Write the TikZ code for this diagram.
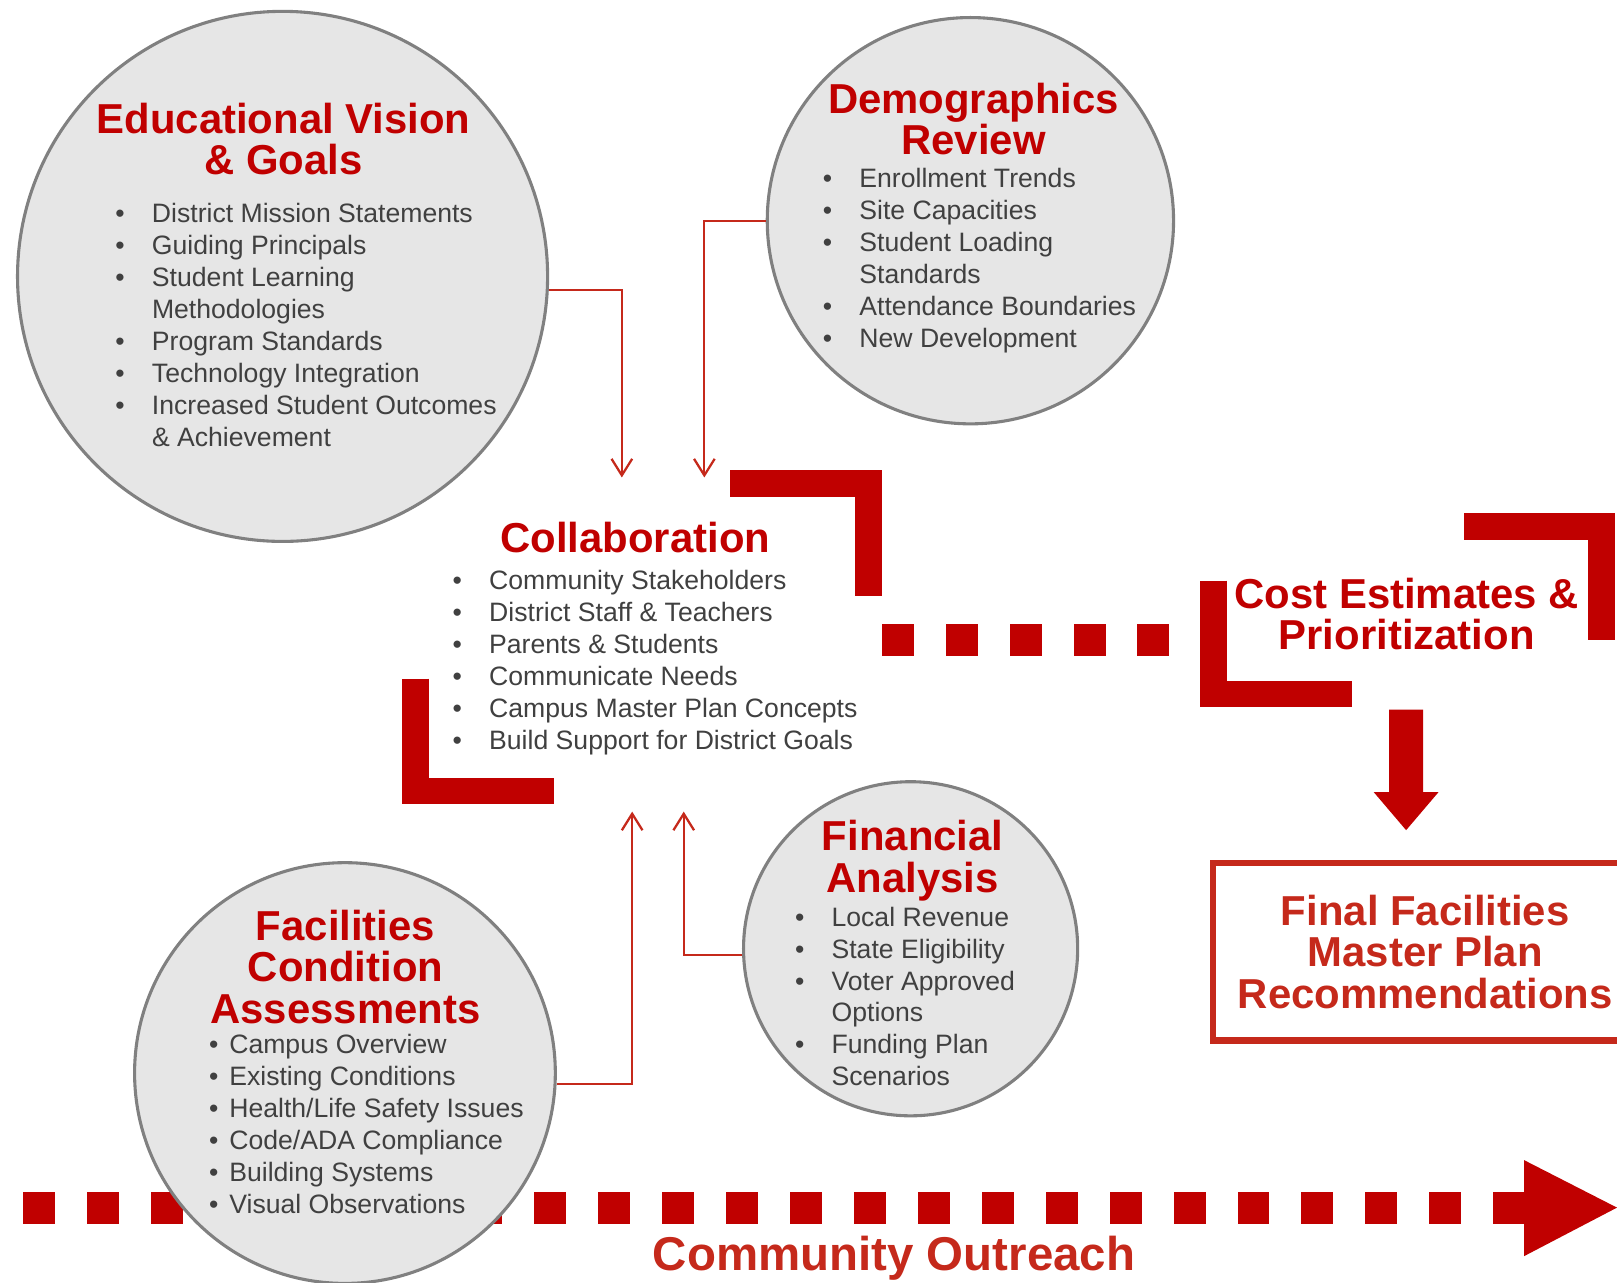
\documentclass[tikz,border=0pt]{standalone}
\usepackage{fontspec}
\setmainfont{Liberation Sans}
\usepackage{xcolor}
\usepackage{tikz}
\usetikzlibrary{arrows.meta}

\definecolor{deepred}{RGB}{192,0,0}
\definecolor{rust}{RGB}{197,41,27}
\definecolor{bubblegray}{RGB}{230,230,230}
\definecolor{rimgray}{RGB}{128,128,128}
\definecolor{inkgray}{RGB}{64,64,64}

\newcommand{\blt}{\makebox[17.75pt][l]{\textbullet}}
\newcommand{\sblt}{\makebox[9.75pt][l]{\textbullet}}
\newcommand{\ind}{\hspace*{17.75pt}}

\begin{document}
\begin{tikzpicture}[
  x=0.5pt, y=-0.5pt,
  bubble/.style={circle, draw=rimgray, fill=bubblegray, line width=1.5pt, inner sep=0pt},
  heading/.style={anchor=base, align=center, inner sep=0pt, text=deepred, font=\bfseries\fontsize{20.3}{20}\selectfont},
  itemlist/.style={anchor=base west, align=left, inner sep=0pt, text=inkgray, font=\fontsize{12.9}{15.5}\selectfont},
  link/.style={draw=rust, line width=1.1pt, -{Straight Barb[length=8pt,width=10pt]}},
  bar/.style={draw=deepred, line width=13pt}
]
\useasboundingbox (0,0) rectangle (1568,1244);
\clip (0,0) rectangle (1568,1244);

% community outreach
\foreach \k in {0,...,23}
  \fill[deepred] ({22+62*\k},1156) rectangle +(31,31);
\fill[deepred] (1478,1125) -- (1568,1171) -- (1478,1218) -- cycle;
\node[anchor=base, inner sep=0pt, text=rust, font=\bfseries\fontsize{23}{23}\selectfont] (outreach) at (867,1232) {Community Outreach};

\node[bubble, minimum size=257pt] (vision) at (274,268) {};
\node[bubble, minimum size=197pt] (demog) at (941,214) {};
\node[bubble, minimum size=162pt] (finance) at (883,920) {};
\node[bubble, minimum size=204pt] (facil) at (334.5,1040.5) {};

% base = last line
\node[heading] (visiont) at (275,169) {Educational Vision\\\& Goals};
\node[itemlist] (visionl) at (111.5,433) {\blt District Mission Statements\\ \blt Guiding Principals\\ \blt Student Learning\\ \ind Methodologies\\ \blt Program Standards\\ \blt Technology Integration\\ \blt Increased Student Outcomes\\ \ind\& Achievement};

\node[heading] (demogt) at (944,150) {Demographics\\Review};
\node[itemlist] (demogl) at (797.5,337) {\blt Enrollment Trends\\ \blt Site Capacities\\ \blt Student Loading\\ \ind Standards\\ \blt Attendance Boundaries\\ \blt New Development};

\node[heading] (collabt) at (616,536) {Collaboration};
\node[itemlist] (collabl) at (438.5,727) {\blt Community Stakeholders\\ \blt District Staff \& Teachers\\ \blt Parents \& Students\\ \blt Communicate Needs\\ \blt Campus Master Plan Concepts\\ \blt Build Support for District Goals};

\node[heading] (financet) at (885,865) {Financial\\Analysis};
\node[itemlist] (financel) at (770.5,1053) {\blt Local Revenue\\ \blt State Eligibility\\ \blt Voter Approved\\ \ind Options\\ \blt Funding Plan\\ \ind Scenarios};

\node[heading] (facilt) at (335,992) {Facilities\\Condition\\Assessments};
\node[itemlist] (facill) at (202.5,1177) {\sblt Campus Overview\\ \sblt Existing Conditions\\ \sblt Health/Life Safety Issues\\ \sblt Code/ADA Compliance\\ \sblt Building Systems\\ \sblt Visual Observations};

\node[heading] (cost) at (1364,630) {Cost Estimates \&\\Prioritization};

\node[draw=rust, line width=3pt, minimum width=206pt, minimum height=86pt, inner sep=0pt, align=center, text=rust, font=\bfseries\fontsize{20.3}{20}\selectfont] (final) at (1382,923) {Final Facilities\\Master Plan\\Recommendations};

% brackets
\draw[bar] (708,468.5) -- (842,468.5) -- (842,578);
\draw[bar] (403,658) -- (403,767) -- (537,767);
\draw[bar] (1177,563) -- (1177,673) -- (1311,673);
\draw[bar] (1420,510.5) -- (1553,510.5) -- (1553,621);
\foreach \k in {0,...,4}
  \fill[deepred] ({855+62*\k},605) rectangle +(31,31);
\fill[deepred] (1347,688) -- (1380,688) -- (1380,768) -- (1395,768) -- (1363.5,805) -- (1332,768) -- (1347,768) -- cycle;

\coordinate (in1) at (603,463);
\coordinate (in2) at (683,463);
\coordinate (in3) at (613,787);
\coordinate (in4) at (663,787);
\draw[link] (vision.-3) -| (in1);
\draw[link] (demog.west) -| (in2);
\draw[link] (facil.-3) -| (in3);
\draw[link] (finance.182) -| (in4);
\end{tikzpicture}
\end{document}
